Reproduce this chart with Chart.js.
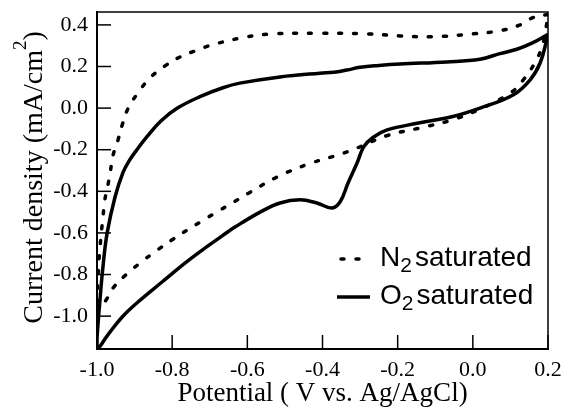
<!DOCTYPE html>
<html>
<head>
<meta charset="utf-8">
<script src="https://cdn.jsdelivr.net/npm/chart.js@4"></script>
<style>
  html, body { margin: 0; padding: 0; background: #fff; }
  #wrap { width: 567px; height: 414px; }
</style>
</head>
<body>
<div id="wrap"><canvas id="cv" width="567" height="414"></canvas></div>
<script>
// tick values
const xTicks = [-1.0, -0.8, -0.6, -0.4, -0.2, 0.0, 0.2];
const yTicks = [-1.0, -0.8, -0.6, -0.4, -0.2, 0.0, 0.2, 0.4];

// N2 saturated loop (upper branch right->left, then lower branch left->right)
const n2Potential = [0.2, 0.16, 0.126, 0.072, 0.0, -0.106, -0.194, -0.282, -0.407, -0.532, -0.611, -0.694, -0.739,
  -0.779, -0.819, -0.859, -0.891, -0.917, -0.933, -0.944, -0.957, -0.965, -0.973, -0.979, -0.984, -0.992, -0.997, -0.998, -0.99,
  -0.975, -0.957, -0.92, -0.88, -0.84, -0.80, -0.76, -0.72, -0.678, -0.64, -0.598, -0.518, -0.433, -0.353,
  -0.308, -0.228, -0.14, -0.061, 0.019, 0.104, 0.134, 0.165, 0.184, 0.193, 0.2];
const n2Current = [0.45, 0.435, 0.40, 0.372, 0.357, 0.343, 0.347, 0.357, 0.36, 0.357, 0.339, 0.304, 0.275,
  0.246, 0.203, 0.145, 0.073, 0.0, -0.081, -0.153, -0.225, -0.31, -0.39, -0.44, -0.52, -0.67, -0.80, -0.92, -0.955,
  -0.92, -0.864, -0.796, -0.737, -0.683, -0.633, -0.586, -0.542, -0.496, -0.456, -0.41, -0.329, -0.266, -0.222,
  -0.192, -0.132, -0.095, -0.06, -0.005, 0.078, 0.135, 0.217, 0.294, 0.366, 0.45];

// O2 saturated loop
const o2Potential = [0.2, 0.16, 0.117, 0.072, 0.019, -0.069, -0.194, -0.25, -0.30, -0.335, -0.37, -0.407, -0.513, -0.62, -0.665, -0.726,
  -0.786, -0.83, -0.866, -0.895, -0.915, -0.931, -0.952, -0.973, -0.984, -0.992, -1.0, -1.0,
  -0.971, -0.933, -0.891, -0.827, -0.766, -0.713, -0.665, -0.633, -0.566, -0.513, -0.46, -0.415, -0.375, -0.353, -0.332,
  -0.308, -0.29, -0.265, -0.228, -0.148, -0.053, 0.019, 0.107, 0.152, 0.179, 0.197, 0.2];
const o2Current = [0.355, 0.315, 0.283, 0.262, 0.235, 0.222, 0.212, 0.205, 0.196, 0.183, 0.172, 0.168, 0.15, 0.12, 0.098, 0.055,
  0.0, -0.062, -0.135, -0.203, -0.255, -0.31, -0.427, -0.6, -0.76, -0.92, -1.11, -1.16,
  -1.09, -1.004, -0.932, -0.836, -0.745, -0.673, -0.612, -0.572, -0.50, -0.456, -0.441, -0.456, -0.48, -0.45, -0.36,
  -0.264, -0.185, -0.14, -0.105, -0.073, -0.04, 0.0, 0.063, 0.135, 0.217, 0.33, 0.355];

const seriesLabels = ['N₂ saturated', 'O₂ saturated'];
const yTitle = ['Current density (mA/cm', '2', ')'];

function toPoints(xs, ys) {
    return xs.map((x, i) => ({ x: x, y: ys[i] }));
}

const serif = '"Liberation Serif", "Times New Roman", serif';
const sans = '"Liberation Sans", Arial, sans-serif';

// frame on top/right, inward ticks, y title with superscript, legend inside the plot
const framePlugin = {
    id: 'framePlugin',
    afterDraw(chart) {
        const { ctx, chartArea: a, scales: { x, y } } = chart;
        ctx.save();
        ctx.strokeStyle = '#000';
        ctx.lineWidth = 1.5;
        ctx.beginPath();
        ctx.moveTo(a.left, a.top);
        ctx.lineTo(a.right, a.top);
        ctx.lineTo(a.right, a.bottom);
        ctx.stroke();

        x.ticks.forEach(t => {
            const px = x.getPixelForValue(t.value);
            ctx.beginPath();
            ctx.moveTo(px, a.bottom);
            ctx.lineTo(px, a.bottom - 14);
            ctx.stroke();
        });
        y.ticks.forEach(t => {
            const py = y.getPixelForValue(t.value);
            ctx.beginPath();
            ctx.moveTo(a.left, py);
            ctx.lineTo(a.left + 14, py);
            ctx.stroke();
        });

        // y axis title, rotated, with a raised 2
        ctx.fillStyle = '#000';
        ctx.textBaseline = 'alphabetic';
        ctx.textAlign = 'left';
        ctx.font = '28px ' + serif;
        const w0 = ctx.measureText(yTitle[0]).width;
        const w2 = ctx.measureText(yTitle[2]).width;
        ctx.font = '19px ' + serif;
        const w1 = ctx.measureText(yTitle[1]).width;
        const total = w0 + w1 + w2;
        ctx.save();
        ctx.translate(42, (a.top + a.bottom) / 2 - 3 + total / 2);
        ctx.rotate(-Math.PI / 2);
        ctx.font = '28px ' + serif;
        ctx.fillText(yTitle[0], 0, 0);
        ctx.font = '19px ' + serif;
        ctx.fillText(yTitle[1], w0, -16);
        ctx.font = '28px ' + serif;
        ctx.fillText(yTitle[2], w0 + w1, 0);
        ctx.restore();

        // legend
        const rows = [259, 297];
        chart.data.datasets.forEach((ds, i) => {
            const ly = rows[i];
            ctx.lineWidth = ds.borderWidth;
            ctx.lineCap = ds.borderCapStyle || 'butt';
            ctx.setLineDash(ds.borderDash || []);
            ctx.beginPath();
            ctx.moveTo(i === 0 ? 341 : 337, ly);
            ctx.lineTo(i === 0 ? 362 : 370, ly);
            ctx.stroke();
            ctx.setLineDash([]);

            const parts = ds.label.split('₂');
            const base = ly + 7;
            ctx.font = '28px ' + sans;
            let tx = 380;
            ctx.fillText(parts[0], tx, base);
            tx += ctx.measureText(parts[0]).width;
            ctx.font = '21px ' + sans;
            ctx.fillText('2', tx, base + 6);
            tx += ctx.measureText('2').width + 3;
            ctx.font = '28px ' + sans;
            ctx.fillText(parts[1].trim(), tx, base);
        });
        ctx.restore();
    }
};

new Chart(document.getElementById('cv'), {
    type: 'scatter',
    data: {
        datasets: [
            {
                label: seriesLabels[0],
                data: toPoints(n2Potential, n2Current),
                showLine: true,
                pointRadius: 0,
                borderColor: '#000',
                borderWidth: 3.5,
                borderDash: [3, 12],
                borderCapStyle: 'round',
                borderJoinStyle: 'round',
                tension: 0.4
            },
            {
                label: seriesLabels[1],
                data: toPoints(o2Potential, o2Current),
                showLine: true,
                pointRadius: 0,
                borderColor: '#000',
                borderWidth: 3.5,
                borderJoinStyle: 'round',
                tension: 0.4
            }
        ]
    },
    options: {
        responsive: false,
        animation: false,
        layout: { autoPadding: false, padding: { left: 0, right: 19, top: 12, bottom: 0 } },
        plugins: {
            legend: { display: false },
            tooltip: { enabled: false }
        },
        scales: {
            x: {
                type: 'linear',
                min: -1.0,
                max: 0.2,
                afterBuildTicks: (scale) => { scale.ticks = xTicks.map(v => ({ value: v })); },
                afterFit: (scale) => {
                    scale.height = 65;
                    scale.paddingLeft = 0;
                    scale.paddingRight = 0;
                },
                grid: { display: false, drawTicks: false },
                border: { display: true, color: '#000', width: 2 },
                ticks: {
                    color: '#000',
                    padding: 8,
                    maxRotation: 0,
                    font: { family: serif, size: 22 },
                    callback: (v) => Number(v).toFixed(1)
                },
                title: {
                    display: true,
                    text: 'Potential ( V vs. Ag/AgCl)',
                    color: '#000',
                    font: { family: serif, size: 27 },
                    padding: { top: 0, bottom: 4 }
                }
            },
            y: {
                type: 'linear',
                min: -1.158,
                max: 0.462,
                afterBuildTicks: (scale) => { scale.ticks = yTicks.map(v => ({ value: v })); },
                afterFit: (scale) => {
                    scale.width = 97;
                    scale.paddingTop = 0;
                    scale.paddingBottom = 0;
                },
                grid: { display: false, drawTicks: false },
                border: { display: true, color: '#000', width: 2 },
                ticks: {
                    color: '#000',
                    padding: 9,
                    font: { family: serif, size: 22 },
                    callback: (v) => Number(v).toFixed(1)
                },
                title: { display: false }
            }
        }
    },
    plugins: [framePlugin]
});
</script>
</body>
</html>
